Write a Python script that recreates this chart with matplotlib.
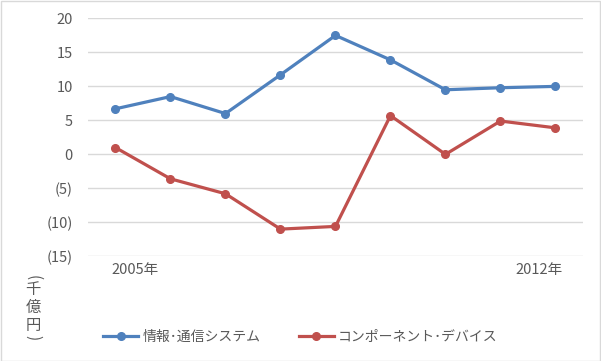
import matplotlib
matplotlib.use("Agg")
import matplotlib.pyplot as plt
from matplotlib.patches import Rectangle
from matplotlib.lines import Line2D

plt.rcParams["font.family"] = ["Noto Sans CJK JP", "DejaVu Sans"]

# データ
info_comm = [6.7, 8.5, 6.0, 11.7, 17.5, 13.9, 9.5, 9.8, 10.0]
components = [1.0, -3.6, -5.8, -11.0, -10.6, 5.7, 0.0, 4.9, 3.9]
series_names = ["情報･通信システム", "コンポーネント･デバイス"]
colors = ["#4F81BD", "#C0504D"]
y_ticks = [-15, -10, -5, 0, 5, 10, 15, 20]
x_label_pos = [0.35, 7.7]
x_labels = ["2005年", "2012年"]
unit_chars = ["千", "億", "円"]

fig = plt.figure(figsize=(6.01, 3.61), dpi=100)
ax = fig.add_axes([0.1464, 0.290, 0.8236, 0.659])

x = list(range(len(info_comm)))
for vals, col in zip([info_comm, components], colors):
    ax.plot(x, vals, color=col, linewidth=2.3, marker="o", markersize=5.5,
            solid_capstyle="round", zorder=3)

ax.set_xlim(-0.5, len(x) - 0.5)
ax.set_ylim(-15, 20)
ax.set_yticks(y_ticks)
ax.set_yticklabels([f"({-v})" if v < 0 else str(v) for v in y_ticks])
ax.set_xticks(x_label_pos)
ax.set_xticklabels(x_labels)
ax.grid(axis="y", color="#d9d9d9", linewidth=1)
ax.set_axisbelow(True)
for s in ax.spines.values():
    s.set_visible(False)
ax.tick_params(axis="both", length=0, labelsize=10.5, colors="#595959")
ax.tick_params(axis="y", pad=11)
ax.tick_params(axis="x", pad=5)

# 縦書きの単位ラベル
unit_x = 0.055
fig.text(unit_x, 0.230, "(", rotation=-90, ha="center", va="center",
         fontsize=11, color="#595959")
for ch, yy in zip(unit_chars, [0.198, 0.148, 0.097]):
    fig.text(unit_x, yy, ch, ha="center", va="center", fontsize=11,
             color="#595959")
fig.text(unit_x, 0.064, ")", rotation=-90, ha="center", va="center",
         fontsize=11, color="#595959")

handles = [Line2D([0], [0], color=c, linewidth=2.3, marker="o", markersize=5.5)
           for c in colors]
fig.legend(handles, series_names, loc="center", bbox_to_anchor=(0.5, 0.067),
           ncol=2, frameon=False, fontsize=10, labelcolor="#595959",
           handlelength=2.5, handletextpad=0.3, columnspacing=2.8)

fig.add_artist(Rectangle((0.001, 0.001), 0.997, 0.996, transform=fig.transFigure,
                         fill=False, edgecolor="#d9d9d9", linewidth=1))

fig.savefig("out.png", dpi=100)
